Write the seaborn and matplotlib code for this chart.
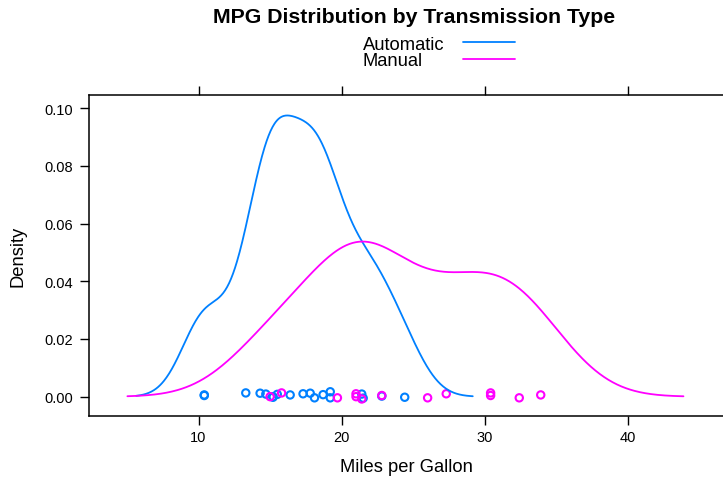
import numpy as np
import pandas as pd
import matplotlib
matplotlib.use("Agg")
import matplotlib.pyplot as plt
from matplotlib.lines import Line2D
import seaborn as sns

auto_mpg = [21.4, 18.7, 18.1, 14.3, 24.4, 22.8, 19.2, 17.8, 16.4, 17.3,
            15.2, 10.4, 10.4, 14.7, 21.5, 15.5, 15.2, 13.3, 19.2]
auto_jit = [0.0009, 0.0007, -0.0004, 0.0012, -0.0002, 0.0002, 0.0017, 0.0012, 0.0006, 0.0010,
            0.0, 0.0004, 0.0006, 0.0009, -0.0005, 0.0008, -0.0002, 0.0013, -0.0004]
manual_mpg = [21.0, 21.0, 22.8, 32.4, 30.4, 33.9, 27.3, 26.0, 30.4, 15.8, 19.7, 15.0, 21.4]
manual_jit = [0.0010, 0.0, 0.0004, -0.0004, 0.0013, 0.0006, 0.0010, -0.0004, 0.0004, 0.0013,
              -0.0004, 0.0, -0.0008]

groups = ["Automatic", "Manual"]
colors = {"Automatic": "#0080ff", "Manual": "#ff00ff"}
x_ticks = [10, 20, 30, 40]
y_ticks = [0.00, 0.02, 0.04, 0.06, 0.08, 0.10]

df = pd.DataFrame({
    "mpg": auto_mpg + manual_mpg,
    "jit": auto_jit + manual_jit,
    "am": ["Automatic"] * len(auto_mpg) + ["Manual"] * len(manual_mpg),
})

sns.set_style("ticks")
plt.rcParams["font.family"] = ["Liberation Sans", "DejaVu Sans"]
plt.rcParams.update({"text.color": "black", "axes.labelcolor": "black",
                     "xtick.color": "black", "ytick.color": "black"})

W, H = 723, 481
fig = plt.figure(figsize=(W / 100, H / 100), dpi=100)
ax = fig.add_axes([89 / W, 64.3 / H, (724 - 89) / W, (416.7 - 95.7) / H])


def nrd0(x):
    # R's default bandwidth, expressed as a factor of the sd for gaussian_kde
    x = np.asarray(x)
    sd = np.std(x, ddof=1)
    iqr = np.subtract(*np.percentile(x, [75, 25]))
    bw = 0.9 * min(sd, iqr / 1.34) * len(x) ** -0.2
    return bw / sd


for g in groups:
    sub = df[df["am"] == g]
    sns.kdeplot(x=sub["mpg"], bw_method=nrd0(sub["mpg"]), cut=3, gridsize=512,
                color=colors[g], linewidth=1.3, ax=ax)
for g in groups:
    sub = df[df["am"] == g]
    sns.scatterplot(x=sub["mpg"], y=sub["jit"], color=colors[g], s=28, ax=ax)
    coll = ax.collections[-1]
    coll.set_facecolor("none")
    coll.set_edgecolor(colors[g])
    coll.set_linewidth(1.5)

ax.set_xlim(2.35, 46.7)
ax.set_ylim(-0.0066, 0.1047)
ax.set_xticks(x_ticks)
ax.set_yticks(y_ticks)
ax.set_yticklabels([f"{v:.2f}" for v in y_ticks])
ax.tick_params(axis="both", direction="out", length=6.5, width=1, labelsize=10.5,
               top=True, right=True, pad=5, colors="black")
ax.tick_params(axis="x", pad=4)
for s in ax.spines.values():
    s.set_linewidth(1.1)
    s.set_color("black")
ax.set_xlabel("Miles per Gallon", fontsize=13.2, labelpad=10, color="black")
ax.set_ylabel("Density", fontsize=13.2, labelpad=13, color="black")

fig.text(414 / W, 1 - 17.5 / H, "MPG Distribution by Transmission Type",
         ha="center", va="center", fontsize=15.3, fontweight="bold", color="black")

# key at the top: label on the left, line sample on the right
key_base = [50, 66.5]
key_line = [42.7, 60.3]
for g, yb, yl in zip(groups, key_base, key_line):
    fig.text(363 / W, 1 - yb / H, g, ha="left", va="baseline", fontsize=13.2, color="black")
    fig.add_artist(Line2D([463 / W, 515 / W], [1 - yl / H, 1 - yl / H],
                          color=colors[g], linewidth=1.3, transform=fig.transFigure))

fig.savefig("out.png", dpi=100)
